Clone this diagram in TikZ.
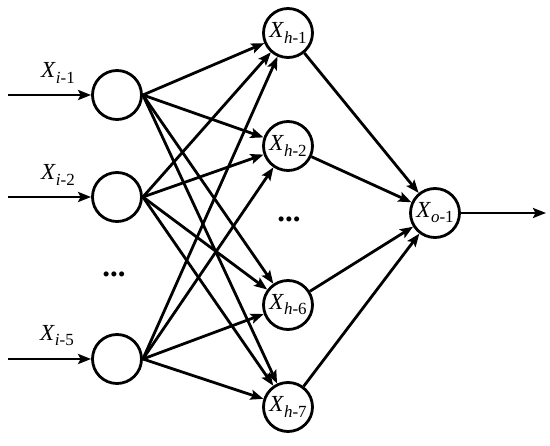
\documentclass[tikz,border=0pt]{standalone}
\usepackage{fontspec}
\setmainfont{Liberation Serif}
\usetikzlibrary{arrows.meta}

\newcommand{\xlab}[2]{\textit{X}{\fontsize{17}{19}\selectfont\raisebox{-0.3em}{\textit{#1}-#2}}}

\begin{document}
\begin{tikzpicture}[
    x=1pt, y=-1pt,
    neuron/.style={circle, draw, line width=2.8pt, minimum size=49pt,
        inner sep=0pt, font=\fontsize{23}{26}\selectfont},
    arr/.style={-{Stealth[length=13pt, width=10pt, inset=2.5pt]}, line width=2.8pt},
    lbl/.style={font=\fontsize{23}{26}\selectfont},
    dots/.style={font=\fontsize{31}{34}\selectfont\bfseries},
]
\useasboundingbox (0,0) rectangle (550,446);

% ── Input layer ──
\node[neuron] (in1) at (117,95) {};
\node[neuron] (in2) at (117,197) {};
\node[neuron] (in5) at (117,359) {};
\node[dots] (indots) at (114,274) {...};

\coordinate (s1) at (8,95);
\coordinate (s2) at (8,197);
\coordinate (s5) at (8,359);

\node[lbl] (l1) at (58,73) {\xlab{i}{1}};
\node[lbl] (l2) at (58,175) {\xlab{i}{2}};
\node[lbl] (l5) at (57,336) {\xlab{i}{5}};

% ── Hidden layer ──
\node[neuron] (h1) at (288,33) {\xlab{h}{1}};
\node[neuron] (h2) at (288,146) {\xlab{h}{2}};
\node[neuron] (h6) at (288,305) {\xlab{h}{6}};
\node[neuron] (h7) at (288,407) {\xlab{h}{7}};
\node[dots] (hdots) at (289,219) {...};

% ── Output layer ──
\node[neuron] (out) at (435,213) {\xlab{o}{1}};
\coordinate (e) at (546,213);

% ── Arrows ──
\foreach \s/\n in {s1/in1, s2/in2, s5/in5}
    \draw[arr] (\s) -- (\n);
\foreach \i in {in1, in2, in5}
    \foreach \h in {h1, h2, h6, h7}
        \draw[arr] (\i.east) -- (\h);
\foreach \h in {h1, h2, h6, h7}
    \draw[arr] (\h) -- (out);
\draw[arr] (out) -- (e);

\end{tikzpicture}
\end{document}
